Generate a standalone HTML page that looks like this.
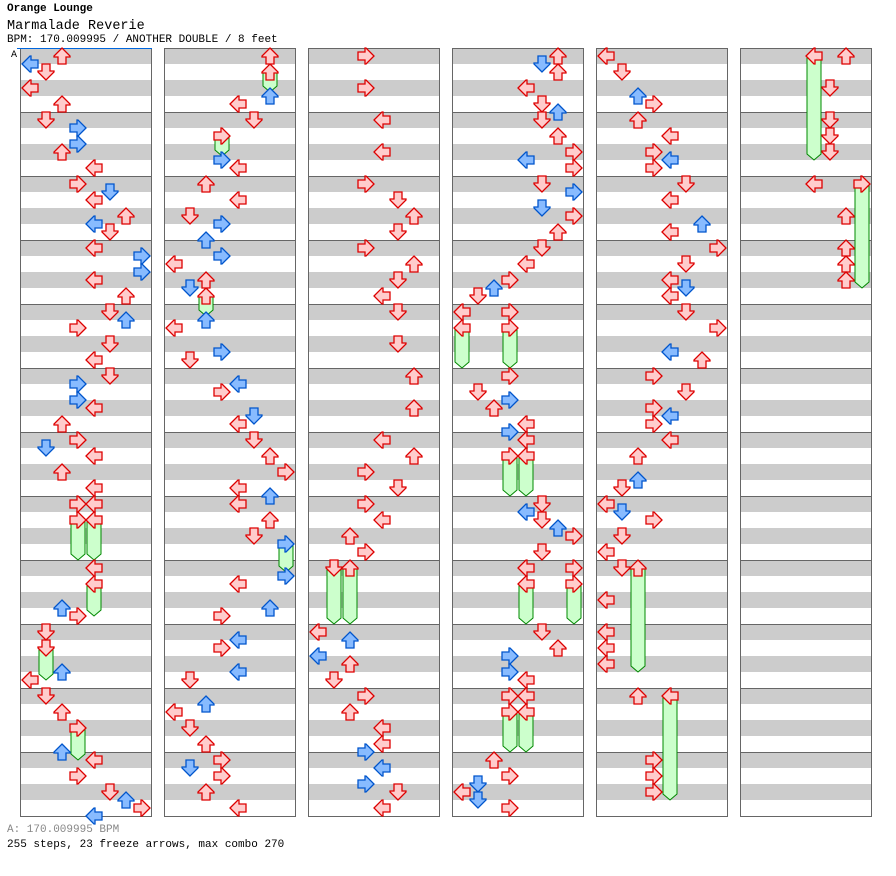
<!DOCTYPE html>
<html><head><meta charset="utf-8"><style>
body{margin:0;background:#fff;width:896px;height:876px;overflow:hidden;font-family:"Liberation Mono",monospace;}
.t{position:absolute;left:7px;white-space:nowrap;color:#000}
</style></head><body>
<div class="t" style="top:3px;font-size:11px;font-weight:bold">Orange Lounge</div>
<div class="t" style="top:19px;font-size:13.5px">Marmalade Reverie</div>
<div class="t" style="top:34px;font-size:11px">BPM: 170.009995 / ANOTHER DOUBLE / 8 feet</div>
<div class="t" style="top:824px;font-size:11px;color:#888">A: 170.009995 BPM</div>
<div class="t" style="top:839px;font-size:11px">255 steps, 23 freeze arrows, max combo 270</div>
<svg id="s" width="896" height="876" style="position:absolute;left:0;top:0">
<text x="11" y="57" font-family="Liberation Mono, monospace" font-size="10">A</text>
</svg>
<script>
var s=document.getElementById('s'),h='';
var cols=[20,164,308,452,596,740];
cols.forEach(function(cx){for(var m=0;m<12;m++){var y=48+m*64;
h+='<rect x="'+cx+'" y="'+y+'" width="132" height="16" fill="#cccccc"/><rect x="'+cx+'" y="'+(y+32)+'" width="132" height="16" fill="#cccccc"/>';
h+='<rect x="'+(cx+0.5)+'" y="'+(y+0.5)+'" width="131" height="64" fill="none" stroke="#666"/>';}});
h+='<line x1="17" y1="48.5" x2="152" y2="48.5" stroke="#0066dd"/>';
var N=[[62,56],[30,64],[46,72],[30,88],[62,104],[46,120],[78,128],[78,144],[62,152],[94,168],[78,184],[110,192],[94,200],[126,216],[94,224],[110,232],[94,248],[142,256],[142,272],[94,280],[126,296],[110,312],[126,320],[78,328],[110,344],[94,360],[110,376],[78,384],[78,400],[94,408],[62,424],[78,440],[46,448],[94,456],[62,472],[94,488],[78,504],[94,504],[94,568],[62,608],[78,616],[46,632],[62,672],[30,680],[46,696],[62,712],[62,752],[94,760],[78,776],[110,792],[126,800],[142,808],[94,816],
[270,56],[270,96],[238,104],[254,120],[222,160],[238,168],[206,184],[238,200],[190,216],[222,224],[206,240],[222,256],[174,264],[206,280],[190,288],[206,320],[174,328],[222,352],[190,360],[238,384],[222,392],[254,416],[238,424],[254,440],[270,456],[286,472],[238,488],[270,496],[238,504],[270,520],[254,536],[286,576],[238,584],[270,608],[222,616],[238,640],[222,648],[238,672],[190,680],[206,704],[174,712],[190,728],[206,744],[222,760],[190,768],[222,776],[206,792],[238,808],
[366,56],[366,88],[382,120],[382,152],[366,184],[398,200],[414,216],[398,232],[366,248],[414,264],[398,280],[382,296],[398,312],[398,344],[414,376],[414,408],[382,440],[414,456],[366,472],[398,488],[366,504],[382,520],[350,536],[366,552],[318,632],[350,640],[318,656],[350,664],[334,680],[366,696],[350,712],[382,728],[382,744],[366,752],[382,768],[366,784],[398,792],[382,808],
[558,56],[542,64],[558,72],[526,88],[542,104],[558,112],[542,120],[558,136],[574,152],[526,160],[574,168],[542,184],[574,192],[542,208],[574,216],[558,232],[542,248],[526,264],[510,280],[494,288],[478,296],[462,312],[510,312],[510,376],[478,392],[510,400],[494,408],[526,424],[510,432],[526,440],[542,504],[526,512],[542,520],[558,528],[574,536],[542,552],[526,568],[574,568],[542,632],[558,648],[510,656],[510,672],[526,680],[510,696],[526,696],[494,760],[510,776],[478,784],[462,792],[478,800],[510,808],
[606,56],[622,72],[638,96],[654,104],[638,120],[670,136],[654,152],[670,160],[654,168],[686,184],[670,200],[702,224],[670,232],[718,248],[686,264],[670,280],[686,288],[670,296],[686,312],[718,328],[670,352],[702,360],[654,376],[686,392],[654,408],[670,416],[654,424],[670,440],[638,456],[638,480],[622,488],[606,504],[622,512],[654,520],[622,536],[606,552],[622,568],[606,600],[606,632],[606,648],[606,664],[638,696],[654,760],[654,776],[654,792],
[846,56],[830,88],[830,120],[830,136],[830,152],[814,184],[846,216],[846,248],[846,264],[846,280]];
var F=[[78,520,560],[94,520,560],[94,584,616],[46,648,680],[78,728,760],[270,72,92],[222,136,156],[206,296,316],[286,544,572],[334,568,624],[350,568,624],[462,328,368],[510,328,368],[510,456,496],[526,456,496],[526,584,624],[574,584,624],[510,712,752],[526,712,752],[638,568,672],[670,696,800],[814,56,160],[862,184,288]];
function lane(x){for(var i=0;i<6;i++){if(x>=cols[i]&&x<cols[i]+140)return ((x-cols[i]-10)/16)|0;}return 0;}
var rot=[-90,180,0,90];
function arrow(x,y){var l=lane(x)%4,red=((y-56)%16)==0;
var f=red?'#ffcccc':'#88bbff',st=red?'#dd0000':'#0055cc';
return '<polygon transform="translate('+x+','+y+') rotate('+rot[l]+')" points="0,-8 8,0 8,1 4,1 4,8 -4,8 -4,1 -8,1 -8,0" fill="'+f+'" stroke="'+st+'" stroke-width="1.3" stroke-linejoin="miter"/>';}
F.forEach(function(a){var x=a[0],y=a[1],e=a[2];
h+='<polygon points="'+(x-7)+','+y+' '+(x+7)+','+y+' '+(x+7)+','+(e-6)+' '+x+','+e+' '+(x-7)+','+(e-6)+'" fill="#ccffcc" stroke="#008800" stroke-width="1"/>';});
F.forEach(function(a){h+=arrow(a[0],a[1]);});
N.forEach(function(a){h+=arrow(a[0],a[1]);});
s.insertAdjacentHTML('beforeend',h);
</script>
</body></html>
